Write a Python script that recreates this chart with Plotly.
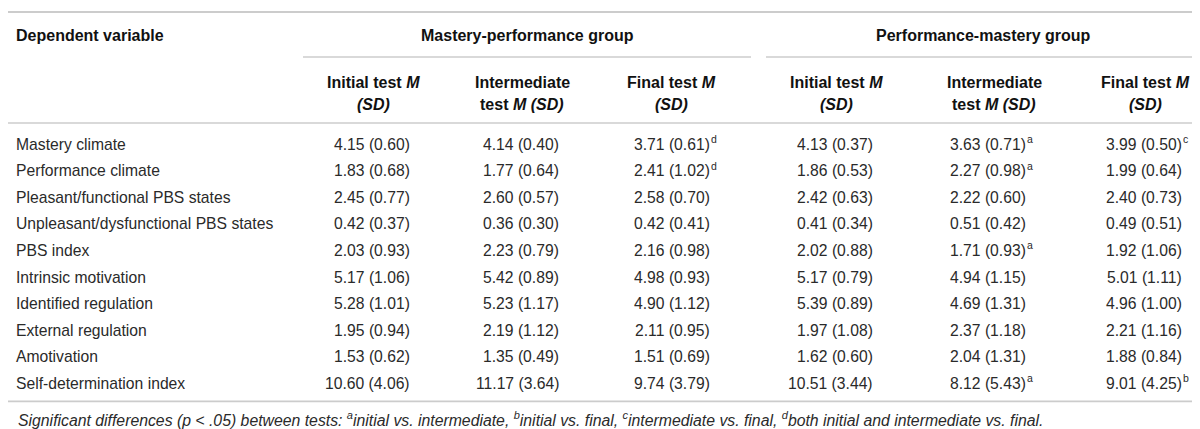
import plotly.graph_objects as go

# table content
variables = [
    "Mastery climate", "Performance climate", "Pleasant/functional PBS states",
    "Unpleasant/dysfunctional PBS states", "PBS index", "Intrinsic motivation",
    "Identified regulation", "External regulation", "Amotivation",
    "Self-determination index",
]
groups = ["Mastery-performance group", "Performance-mastery group"]
sub_headers = [
    ("Initial test <i>M</i>", "<i>(SD)</i>"),
    ("Intermediate", "test <i>M (SD)</i>"),
    ("Final test <i>M</i>", "<i>(SD)</i>"),
] * 2

# means per column (MP initial, MP intermediate, MP final, PM initial, PM intermediate, PM final)
means = [
    [4.15, 4.14, 3.71, 4.13, 3.63, 3.99],
    [1.83, 1.77, 2.41, 1.86, 2.27, 1.99],
    [2.45, 2.60, 2.58, 2.42, 2.22, 2.40],
    [0.42, 0.36, 0.42, 0.41, 0.51, 0.49],
    [2.03, 2.23, 2.16, 2.02, 1.71, 1.92],
    [5.17, 5.42, 4.98, 5.17, 4.94, 5.01],
    [5.28, 5.23, 4.90, 5.39, 4.69, 4.96],
    [1.95, 2.19, 2.11, 1.97, 2.37, 2.21],
    [1.53, 1.35, 1.51, 1.62, 2.04, 1.88],
    [10.60, 11.17, 9.74, 10.51, 8.12, 9.01],
]
sds = [
    [0.60, 0.40, 0.61, 0.37, 0.71, 0.50],
    [0.68, 0.64, 1.02, 0.53, 0.98, 0.64],
    [0.77, 0.57, 0.70, 0.63, 0.60, 0.73],
    [0.37, 0.30, 0.41, 0.34, 0.42, 0.51],
    [0.93, 0.79, 0.98, 0.88, 0.93, 1.06],
    [1.06, 0.89, 0.93, 0.79, 1.15, 1.11],
    [1.01, 1.17, 1.12, 0.89, 1.31, 1.00],
    [0.94, 1.12, 0.95, 1.08, 1.18, 1.16],
    [0.62, 0.49, 0.69, 0.60, 1.31, 0.84],
    [4.06, 3.64, 3.79, 3.44, 5.43, 4.25],
]
marks = [
    ["", "", "d", "", "a", "c"],
    ["", "", "d", "", "a", ""],
    ["", "", "", "", "", ""],
    ["", "", "", "", "", ""],
    ["", "", "", "", "a", ""],
    ["", "", "", "", "", ""],
    ["", "", "", "", "", ""],
    ["", "", "", "", "", ""],
    ["", "", "", "", "", ""],
    ["", "", "", "", "a", "b"],
]
footnote = ("<i>Significant differences (p &lt; .05) between tests: <sup>a</sup>initial vs. intermediate, "
            "<sup>b</sup>initial vs. final, <sup>c</sup>intermediate vs. final, "
            "<sup>d</sup>both initial and intermediate vs. final.</i>")

# layout geometry (pixels)
W, H = 1200, 429
col_centers = [365, 514, 663, 828, 986, 1137]
value_right = [403, 552, 703, 866, 1019, 1175]   # right edge of the "M (SD)" text
group_spans = [(295, 743), (758, 1193)]
row_y0, row_h = 136, 26.6
FONT = "Liberation Sans, Arial, sans-serif"
TXT = "#2a2a2a"
HEAD = "#111111"
RULE = "#cccccc"
BODY_SIZE = 15.7
HEAD_SIZE = 16

fig = go.Figure()
ann = []
shapes = []


def text(x, y, s, size=BODY_SIZE, anchor="center", bold=False, color=TXT, yshift=0, xshift=0):
    if bold:
        s = "<b>" + s + "</b>"
    ann.append(dict(x=x, y=y, text=s, xanchor=anchor, yanchor="middle", showarrow=False,
                    font=dict(family=FONT, size=size, color=color),
                    yshift=yshift, xshift=xshift, borderpad=0))


def rule(x0, x1, y, width=1.6):
    shapes.append(dict(type="line", x0=x0, x1=x1, y0=y, y1=y, xref="x", yref="y",
                       line=dict(color=RULE, width=width)))


# header
text(7, 27, "Dependent variable", size=HEAD_SIZE, anchor="left", bold=True, color=HEAD)
for g, (a, b) in zip(groups, group_spans):
    text((a + b) / 2, 27, g, size=HEAD_SIZE, bold=True, color=HEAD)
    rule(a, b, 49)
for cx, (l1, l2) in zip(col_centers, sub_headers):
    text(cx, 74, l1, size=HEAD_SIZE, bold=True, color=HEAD)
    text(cx, 96, l2, size=HEAD_SIZE, bold=True, color=HEAD)

rule(0, 1193, 4, width=2.2)
rule(0, 1193, 115)

# body
for i, name in enumerate(variables):
    y = row_y0 + i * row_h
    text(7, y, name, anchor="left")
    for j, right in enumerate(value_right):
        text(right, y, f"{means[i][j]:.2f} ({sds[i][j]:.2f})", anchor="right")
        if marks[i][j]:
            text(right, y, marks[i][j], size=10.5, anchor="left", yshift=5, xshift=-1)

bottom = row_y0 + (len(variables) - 1) * row_h + 18
rule(0, 1190, bottom)
text(9, bottom + 18, footnote, size=15.8, anchor="left")

fig.update_layout(
    width=W, height=H,
    margin=dict(l=0, r=0, t=0, b=0),
    paper_bgcolor="white", plot_bgcolor="white",
    xaxis=dict(range=[0, W], visible=False, fixedrange=True),
    yaxis=dict(range=[H, 0], visible=False, fixedrange=True),
    annotations=ann, shapes=shapes, showlegend=False,
)

fig.write_html("out.html")
